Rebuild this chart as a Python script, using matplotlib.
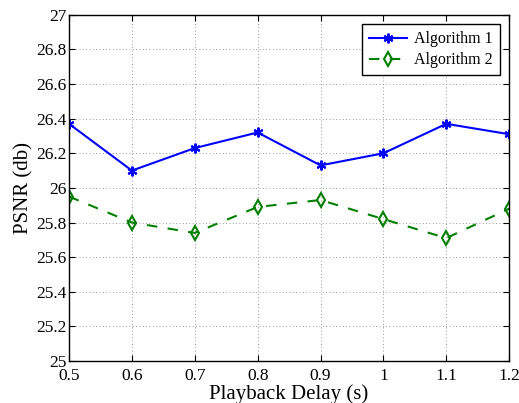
import matplotlib
matplotlib.use("Agg")
import matplotlib.pyplot as plt

plt.rcParams['font.family'] = ['Liberation Serif', 'DejaVu Serif']

delay = [0.5, 0.6, 0.7, 0.8, 0.9, 1.0, 1.1, 1.2]
alg1 = [26.37, 26.10, 26.23, 26.32, 26.13, 26.20, 26.37, 26.31]
alg2 = [25.95, 25.80, 25.74, 25.89, 25.93, 25.82, 25.71, 25.88]
xticks = [0.5, 0.6, 0.7, 0.8, 0.9, 1, 1.1, 1.2]
xticklabels = ['0.5', '0.6', '0.7', '0.8', '0.9', '1', '1.1', '1.2']
yticks = [25, 25.2, 25.4, 25.6, 25.8, 26, 26.2, 26.4, 26.6, 26.8, 27]
yticklabels = ['25', '25.2', '25.4', '25.6', '25.8', '26', '26.2', '26.4', '26.6', '26.8', '27']

fig = plt.figure(figsize=(5.19, 4.03), dpi=100)
ax = fig.add_axes([0.133, 0.104, 0.848, 0.8595])

ax.plot(delay, alg1, color='#0000ff', lw=1.5, marker=(6, 2, 0), ms=7, mew=1.5,
        label='Algorithm 1')
ax.plot(delay, alg2, color='#008000', lw=1.5, ls=(0, (5, 5)), marker='d', ms=7,
        mfc='none', mew=1.5, label='Algorithm 2')

ax.set_xlim(0.5, 1.2)
ax.set_ylim(25, 27)
ax.set_xticks(xticks)
ax.set_xticklabels(xticklabels)
ax.set_yticks(yticks)
ax.set_yticklabels(yticklabels)
ax.tick_params(direction='in', top=True, right=True, labelsize=12.5, length=4, width=0.8)
ax.tick_params(axis='y', pad=2)
ax.tick_params(axis='x', pad=5)
ax.grid(True, ls=(0, (1, 3)), color='#777777', lw=0.6)
for s in ax.spines.values():
    s.set_linewidth(1.0)

ax.set_xlabel('Playback Delay (s)', fontsize=15, labelpad=0)
ax.set_ylabel('PSNR (db)', fontsize=15, labelpad=2)

leg = ax.legend(loc='upper right', fontsize=11.5, frameon=True, fancybox=False,
                edgecolor='black', framealpha=1, handlelength=2.4, handletextpad=0.4,
                borderaxespad=0.6, labelspacing=0.3, borderpad=0.45)
leg.get_frame().set_linewidth(1.0)

fig.savefig('out.png', dpi=100)
